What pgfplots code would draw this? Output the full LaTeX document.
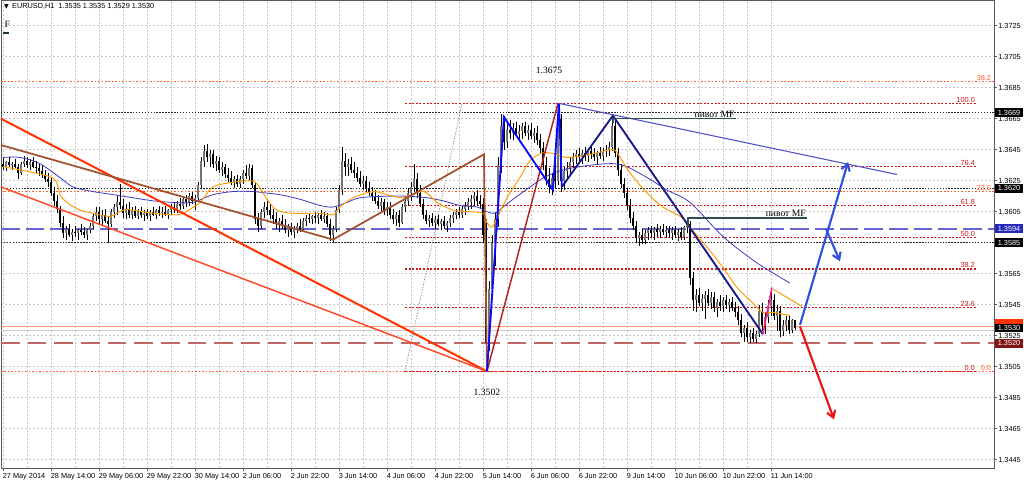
\documentclass[border=0pt]{standalone}
\usepackage{fontspec}
\setmainfont{Liberation Sans}
\newfontfamily\serif{Liberation Serif}
\newfontfamily\dju{DejaVu Sans}
\usepackage{pgfplots}
\pgfplotsset{compat=1.18}
\usepackage{pgfplotstable}
\usetikzlibrary{arrows.meta}

\definecolor{redA}{RGB}{255,51,0}
\definecolor{redB}{RGB}{255,72,40}
\definecolor{brownL}{RGB}{160,82,45}
\definecolor{fibbase}{RGB}{178,34,34}
\definecolor{blueZ}{RGB}{10,10,255}
\definecolor{navyZ}{RGB}{25,25,140}
\definecolor{pinkZ}{RGB}{255,20,147}
\definecolor{trendB}{RGB}{80,80,205}
\definecolor{maOr}{RGB}{255,153,0}
\definecolor{maBl}{RGB}{60,60,200}
\definecolor{pivotG}{RGB}{47,79,79}
\definecolor{arrB}{RGB}{50,80,220}
\definecolor{arrR}{RGB}{235,20,20}
\definecolor{fibR}{RGB}{205,25,25}
\definecolor{fibO}{RGB}{255,99,40}
\definecolor{dashB}{RGB}{100,100,210}
\definecolor{dashR}{RGB}{190,105,105}
\definecolor{priceO}{RGB}{255,160,120}
\definecolor{boxB}{RGB}{40,40,190}
\definecolor{boxD}{RGB}{130,20,20}
\definecolor{boxR}{RGB}{255,50,0}

\newcommand\sz{\fontsize{5.5}{6}\selectfont}
\newcommand\sr{\serif\fontsize{7.2}{8}\selectfont}

% hourly EURUSD bars, i = bar number (3 px per bar in the screenshot)
\pgfplotstableread{
i o h l c
0 1.3636 1.3640 1.3632 1.3634
1 1.3634 1.3638 1.3631 1.3637
2 1.3637 1.3640 1.3634 1.3635
3 1.3635 1.3637 1.3632 1.3636
4 1.3636 1.3639 1.3633 1.3634
5 1.3634 1.3636 1.3626 1.3630
6 1.3630 1.3637 1.3629 1.3636
7 1.3636 1.3641 1.3634 1.3638
8 1.3638 1.3640 1.3633 1.3635
9 1.3635 1.3639 1.3632 1.3637
10 1.3637 1.3640 1.3633 1.3634
11 1.3634 1.3638 1.3630 1.3633
12 1.3633 1.3636 1.3628 1.3631
13 1.3631 1.3635 1.3627 1.3629
14 1.3629 1.3632 1.3624 1.3626
15 1.3626 1.3630 1.3621 1.3624
16 1.3624 1.3627 1.3615 1.3617
17 1.3617 1.3621 1.3609 1.3612
18 1.3612 1.3616 1.3604 1.3607
19 1.3607 1.3609 1.3595 1.3598
20 1.3598 1.3602 1.3588 1.3591
21 1.3591 1.3596 1.3587 1.3594
22 1.3594 1.3597 1.3589 1.3590
23 1.3590 1.3594 1.3586 1.3592
24 1.3592 1.3596 1.3589 1.3591
25 1.3591 1.3594 1.3587 1.3593
26 1.3593 1.3597 1.3590 1.3592
27 1.3592 1.3595 1.3588 1.3590
28 1.3590 1.3594 1.3587 1.3593
29 1.3593 1.3598 1.3591 1.3596
30 1.3596 1.3604 1.3594 1.3602
31 1.3602 1.3608 1.3599 1.3605
32 1.3605 1.3608 1.3597 1.3600
33 1.3600 1.3606 1.3596 1.3603
34 1.3603 1.3607 1.3598 1.3599
35 1.3599 1.3602 1.3585 1.3597
36 1.3597 1.3607 1.3595 1.3605
37 1.3605 1.3610 1.3601 1.3608
38 1.3608 1.3615 1.3603 1.3611
39 1.3611 1.3623 1.3607 1.3609
40 1.3609 1.3613 1.3601 1.3604
41 1.3604 1.3610 1.3600 1.3607
42 1.3607 1.3611 1.3601 1.3603
43 1.3603 1.3608 1.3600 1.3606
44 1.3606 1.3609 1.3601 1.3602
45 1.3602 1.3607 1.3600 1.3605
46 1.3605 1.3608 1.3601 1.3603
47 1.3603 1.3606 1.3599 1.3604
48 1.3604 1.3607 1.3600 1.3602
49 1.3602 1.3606 1.3599 1.3605
50 1.3605 1.3608 1.3602 1.3603
51 1.3603 1.3607 1.3600 1.3606
52 1.3606 1.3609 1.3602 1.3604
53 1.3604 1.3608 1.3601 1.3605
54 1.3605 1.3609 1.3602 1.3603
55 1.3603 1.3607 1.3600 1.3606
56 1.3606 1.3610 1.3603 1.3608
57 1.3608 1.3611 1.3604 1.3606
58 1.3606 1.3612 1.3604 1.3610
59 1.3610 1.3614 1.3606 1.3609
60 1.3609 1.3615 1.3607 1.3613
61 1.3613 1.3616 1.3608 1.3611
62 1.3611 1.3617 1.3609 1.3615
63 1.3615 1.3618 1.3610 1.3612
64 1.3612 1.3616 1.3606 1.3614
65 1.3614 1.3624 1.3612 1.3622
66 1.3622 1.3640 1.3620 1.3638
67 1.3638 1.3648 1.3634 1.3644
68 1.3644 1.3649 1.3637 1.3640
69 1.3640 1.3645 1.3634 1.3642
70 1.3642 1.3645 1.3633 1.3636
71 1.3636 1.3641 1.3631 1.3638
72 1.3638 1.3640 1.3630 1.3632
73 1.3632 1.3637 1.3628 1.3634
74 1.3634 1.3636 1.3627 1.3629
75 1.3629 1.3633 1.3624 1.3627
76 1.3627 1.3631 1.3622 1.3624
77 1.3624 1.3628 1.3620 1.3626
78 1.3626 1.3629 1.3621 1.3623
79 1.3623 1.3628 1.3620 1.3626
80 1.3626 1.3632 1.3623 1.3630
81 1.3630 1.3635 1.3626 1.3628
82 1.3628 1.3636 1.3625 1.3633
83 1.3633 1.3635 1.3620 1.3622
84 1.3622 1.3624 1.3597 1.3600
85 1.3600 1.3604 1.3592 1.3596
86 1.3596 1.3607 1.3594 1.3605
87 1.3605 1.3611 1.3601 1.3608
88 1.3608 1.3612 1.3603 1.3606
89 1.3606 1.3610 1.3600 1.3603
90 1.3603 1.3607 1.3597 1.3600
91 1.3600 1.3605 1.3594 1.3597
92 1.3597 1.3601 1.3592 1.3599
93 1.3599 1.3603 1.3594 1.3596
94 1.3596 1.3600 1.3591 1.3593
95 1.3593 1.3597 1.3589 1.3595
96 1.3595 1.3598 1.3590 1.3592
97 1.3592 1.3596 1.3588 1.3594
98 1.3594 1.3598 1.3591 1.3596
99 1.3596 1.3600 1.3592 1.3594
100 1.3594 1.3601 1.3593 1.3599
101 1.3599 1.3603 1.3596 1.3601
102 1.3601 1.3604 1.3598 1.3600
103 1.3600 1.3603 1.3597 1.3602
104 1.3602 1.3605 1.3598 1.3601
105 1.3601 1.3604 1.3597 1.3603
106 1.3603 1.3606 1.3599 1.3600
107 1.3600 1.3605 1.3598 1.3602
108 1.3602 1.3604 1.3595 1.3597
109 1.3597 1.3600 1.3586 1.3590
110 1.3590 1.3596 1.3585 1.3594
111 1.3594 1.3608 1.3592 1.3606
112 1.3606 1.3622 1.3604 1.3619
113 1.3619 1.3647 1.3616 1.3638
114 1.3638 1.3643 1.3628 1.3634
115 1.3634 1.3639 1.3628 1.3636
116 1.3636 1.3640 1.3630 1.3632
117 1.3632 1.3637 1.3627 1.3630
118 1.3630 1.3634 1.3624 1.3627
119 1.3627 1.3631 1.3621 1.3623
120 1.3623 1.3628 1.3619 1.3625
121 1.3625 1.3628 1.3618 1.3620
122 1.3620 1.3624 1.3615 1.3617
123 1.3617 1.3621 1.3612 1.3615
124 1.3615 1.3619 1.3610 1.3612
125 1.3612 1.3616 1.3607 1.3609
126 1.3609 1.3614 1.3605 1.3611
127 1.3611 1.3613 1.3603 1.3606
128 1.3606 1.3611 1.3602 1.3608
129 1.3608 1.3611 1.3600 1.3603
130 1.3603 1.3607 1.3597 1.3600
131 1.3600 1.3605 1.3596 1.3603
132 1.3603 1.3606 1.3595 1.3598
133 1.3598 1.3610 1.3597 1.3608
134 1.3608 1.3615 1.3605 1.3612
135 1.3612 1.3620 1.3609 1.3617
136 1.3617 1.3624 1.3612 1.3621
137 1.3621 1.3636 1.3618 1.3626
138 1.3626 1.3630 1.3614 1.3617
139 1.3617 1.3622 1.3608 1.3610
140 1.3610 1.3613 1.3600 1.3603
141 1.3603 1.3606 1.3597 1.3599
142 1.3599 1.3603 1.3595 1.3601
143 1.3601 1.3604 1.3596 1.3598
144 1.3598 1.3602 1.3594 1.3600
145 1.3600 1.3603 1.3596 1.3597
146 1.3597 1.3600 1.3593 1.3599
147 1.3599 1.3602 1.3594 1.3596
148 1.3596 1.3599 1.3592 1.3598
149 1.3598 1.3603 1.3595 1.3601
150 1.3601 1.3605 1.3598 1.3603
151 1.3603 1.3607 1.3600 1.3605
152 1.3605 1.3608 1.3601 1.3603
153 1.3603 1.3609 1.3601 1.3607
154 1.3607 1.3611 1.3603 1.3609
155 1.3609 1.3614 1.3606 1.3611
156 1.3611 1.3616 1.3607 1.3613
157 1.3613 1.3618 1.3609 1.3615
158 1.3615 1.3619 1.3609 1.3612
159 1.3612 1.3616 1.3607 1.3610
160 1.3610 1.3614 1.3585 1.3590
161 1.3590 1.3600 1.3502 1.3520
162 1.3520 1.3560 1.3515 1.3555
163 1.3555 1.3590 1.3548 1.3585
164 1.3585 1.3605 1.3570 1.3600
165 1.3600 1.3640 1.3595 1.3635
166 1.3635 1.3668 1.3630 1.3660
167 1.3660 1.3667 1.3645 1.3650
168 1.3650 1.3662 1.3646 1.3658
169 1.3658 1.3664 1.3652 1.3656
170 1.3656 1.3662 1.3651 1.3659
171 1.3659 1.3663 1.3653 1.3655
172 1.3655 1.3661 1.3650 1.3657
173 1.3657 1.3662 1.3652 1.3660
174 1.3660 1.3663 1.3654 1.3656
175 1.3656 1.3661 1.3651 1.3658
176 1.3658 1.3662 1.3652 1.3654
177 1.3654 1.3659 1.3649 1.3656
178 1.3656 1.3660 1.3648 1.3651
179 1.3651 1.3655 1.3643 1.3646
180 1.3646 1.3650 1.3632 1.3635
181 1.3635 1.3640 1.3622 1.3626
182 1.3626 1.3633 1.3617 1.3621
183 1.3621 1.3630 1.3616 1.3627
184 1.3627 1.3640 1.3620 1.3625
185 1.3625 1.3675 1.3622 1.3665
186 1.3665 1.3668 1.3618 1.3625
187 1.3625 1.3634 1.3619 1.3631
188 1.3631 1.3637 1.3627 1.3633
189 1.3633 1.3640 1.3629 1.3637
190 1.3637 1.3643 1.3633 1.3640
191 1.3640 1.3645 1.3636 1.3642
192 1.3642 1.3646 1.3637 1.3640
193 1.3640 1.3645 1.3636 1.3643
194 1.3643 1.3647 1.3638 1.3641
195 1.3641 1.3645 1.3637 1.3644
196 1.3644 1.3648 1.3639 1.3642
197 1.3642 1.3646 1.3638 1.3640
198 1.3640 1.3644 1.3636 1.3643
199 1.3643 1.3647 1.3639 1.3641
200 1.3641 1.3646 1.3638 1.3644
201 1.3644 1.3648 1.3640 1.3645
202 1.3645 1.3650 1.3641 1.3647
203 1.3647 1.3667 1.3644 1.3660
204 1.3660 1.3664 1.3640 1.3643
205 1.3643 1.3646 1.3628 1.3632
206 1.3632 1.3636 1.3620 1.3623
207 1.3623 1.3627 1.3614 1.3617
208 1.3617 1.3620 1.3606 1.3609
209 1.3609 1.3613 1.3598 1.3601
210 1.3601 1.3605 1.3593 1.3596
211 1.3596 1.3599 1.3585 1.3588
212 1.3588 1.3592 1.3583 1.3590
213 1.3590 1.3594 1.3584 1.3587
214 1.3587 1.3593 1.3584 1.3591
215 1.3591 1.3595 1.3587 1.3593
216 1.3593 1.3596 1.3588 1.3591
217 1.3591 1.3595 1.3587 1.3594
218 1.3594 1.3597 1.3589 1.3592
219 1.3592 1.3596 1.3588 1.3594
220 1.3594 1.3597 1.3590 1.3592
221 1.3592 1.3596 1.3588 1.3593
222 1.3593 1.3596 1.3589 1.3591
223 1.3591 1.3595 1.3587 1.3593
224 1.3593 1.3596 1.3588 1.3590
225 1.3590 1.3594 1.3586 1.3592
226 1.3592 1.3595 1.3587 1.3589
227 1.3589 1.3596 1.3587 1.3595
228 1.3595 1.3601 1.3591 1.3597
229 1.3597 1.3599 1.3558 1.3562
230 1.3562 1.3566 1.3541 1.3548
231 1.3548 1.3555 1.3540 1.3551
232 1.3551 1.3556 1.3544 1.3546
233 1.3546 1.3552 1.3541 1.3549
234 1.3549 1.3554 1.3536 1.3551
235 1.3551 1.3555 1.3544 1.3546
236 1.3546 1.3553 1.3542 1.3550
237 1.3550 1.3553 1.3540 1.3543
238 1.3543 1.3549 1.3537 1.3547
239 1.3547 1.3551 1.3541 1.3544
240 1.3544 1.3550 1.3540 1.3548
241 1.3548 1.3551 1.3542 1.3545
242 1.3545 1.3549 1.3540 1.3547
243 1.3547 1.3550 1.3541 1.3543
244 1.3543 1.3547 1.3537 1.3540
245 1.3540 1.3544 1.3532 1.3535
246 1.3535 1.3539 1.3524 1.3527
247 1.3527 1.3532 1.3521 1.3530
248 1.3530 1.3534 1.3521 1.3524
249 1.3524 1.3529 1.3520 1.3527
250 1.3527 1.3530 1.3521 1.3523
251 1.3523 1.3528 1.3520 1.3526
252 1.3526 1.3545 1.3524 1.3541
253 1.3541 1.3546 1.3528 1.3532
254 1.3532 1.3540 1.3526 1.3537
255 1.3537 1.3548 1.3533 1.3544
256 1.3544 1.3555 1.3538 1.3548
257 1.3548 1.3552 1.3535 1.3538
258 1.3538 1.3545 1.3528 1.3541
259 1.3541 1.3544 1.3524 1.3528
260 1.3528 1.3535 1.3525 1.3532
261 1.3532 1.3538 1.3528 1.3535
262 1.3535 1.3538 1.3526 1.3529
263 1.3529 1.3536 1.3527 1.3535
264 1.3535 1.3535 1.3529 1.3530
}\bars

\tikzset{
  dotblk/.style={black!85, line width=0.9pt, dash pattern=on 1.1pt off 1.1pt},
  dotorg/.style={fibO, line width=0.8pt, dash pattern=on 1.2pt off 1.4pt},
  dotfib/.style={fibR, line width=1pt, dash pattern=on 1.5pt off 1.2pt},
  fiblab/.style={fibR, font=\sz, anchor=south east, inner sep=0.6pt},
  orglab/.style={fibO, font=\sz, anchor=south east, inner sep=0.6pt},
  pbox/.style={text=white, font=\sz, anchor=west, inner sep=0pt, minimum width=21pt, minimum height=6.6pt, xshift=0.6pt},
}
\newcommand{\hlev}[2]{\addplot[#1] coordinates {(-0.6667,#2) (330.3333,#2)};}
\newcommand{\fib}[2]{\addplot[dotfib] coordinates {(134,#1) (324.3,#1)};
  \node[fiblab] at (axis cs:324.3,#1) {#2};}

\begin{document}
\begin{tikzpicture}
\fill[white] (-0.75pt,-10.5pt) rectangle (767.25pt,351pt);
\begin{axis}[
    at={(0pt,0pt)}, anchor=south west,
    width=744.75pt, height=351pt, scale only axis,
    xmin=-0.6667, xmax=330.3333,
    ymin=1.343965, ymax=1.374158,
    clip=false,
    axis line style={draw=black!65, line width=0.6pt},
    xtick={0,16,32,48,64,80,96,112,128,144,160,176,192,208,224,240,256},
    xticklabels={27 May 2014,28 May 14:00,29 May 06:00,29 May 22:00,30 May 14:00,
      2 Jun 06:00,2 Jun 22:00,3 Jun 14:00,4 Jun 06:00,4 Jun 22:00,5 Jun 14:00,
      6 Jun 06:00,6 Jun 22:00,9 Jun 14:00,10 Jun 06:00,10 Jun 22:00,11 Jun 14:00},
    minor x tick num=1,
    ytick={1.3445,1.3465,1.3485,1.3505,1.3525,1.3545,1.3565,1.3585,1.3605,1.3625,1.3645,1.3665,1.3685,1.3705,1.3725},
    scaled y ticks=false,
    xtick pos=bottom, ytick pos=right, yticklabel pos=right,
    tick align=outside, major tick length=2.25pt, minor tick length=0pt,
    tick style={black!65, line width=0.5pt},
    xmajorgrids, xminorgrids, ymajorgrids,
    grid style={black!22, line width=0.5pt, dash pattern=on 1.5pt off 1.5pt},
    minor grid style={black!22, line width=0.5pt, dash pattern=on 1.5pt off 1.5pt},
    /pgf/number format/assume math mode=true,
    xticklabel style={font=\sz, anchor=north west, inner sep=0pt, yshift=-1.6pt, xshift=-0.3pt},
    yticklabel style={font=\sz, anchor=west, inner sep=0pt, xshift=0.8pt,
      /pgf/number format/.cd, fixed, fixed zerofill, precision=4},
]

% horizontal levels
\hlev{dotorg}{1.3689}
\hlev{dotorg}{1.3618}
\hlev{dotorg}{1.3502}
\hlev{dotblk}{1.3669}
\hlev{dotblk}{1.3620}
\hlev{dotblk}{1.3585}
\hlev{dashB, line width=1.4pt, dash pattern=on 14pt off 4.5pt}{1.3594}
\hlev{dashR, line width=1.5pt, dash pattern=on 14pt off 6pt}{1.3520}
\hlev{black!20, line width=0.9pt}{1.35285}
\hlev{priceO, line width=1.3pt}{1.3531}

% fibo grid on the 5 Jun swing
\fib{1.3675}{100.0}
\fib{1.3634}{76.4}
\fib{1.3609}{61.8}
\fib{1.35885}{50.0}
\fib{1.3568}{38.2}
\fib{1.3543}{23.6}
\fib{1.3502}{0.0}
\node[orglab] at (axis cs:329.7,1.3689) {38.2};
\node[orglab] at (axis cs:329.7,1.3618) {23.6};
\node[orglab] at (axis cs:329.7,1.3502) {0.0};
\addplot[black!45, line width=0.5pt, dash pattern=on 1pt off 1pt] coordinates {(134,1.3502) (153,1.3675)};

% candles
\addplot[black, line width=0.6pt, quiver={u=0, v=\thisrow{h}-\thisrow{l}}] table[x=i, y=l] {\bars};
\addplot[black!55, line width=1.5pt, restrict expr to domain={\thisrow{c}-\thisrow{o}}{0:1},
  quiver={u=0, v=\thisrow{c}-\thisrow{o}}] table[x=i, y=o] {\bars};
\addplot[black, line width=1.5pt, restrict expr to domain={\thisrow{c}-\thisrow{o}}{-1:0},
  quiver={u=0, v=\thisrow{c}-\thisrow{o}}] table[x=i, y=o] {\bars};

% moving averages
\addplot[maBl, line width=0.6pt, smooth] coordinates {
(0,1.3640) (5.7,1.3640) (12.3,1.3636) (19,1.3627) (23.3,1.3621) (30,1.3618)
(36.7,1.3616) (43.3,1.3614) (50,1.3612) (56.7,1.3611) (63.3,1.3611) (70,1.3616)
(76.7,1.3618) (83.3,1.3618) (88,1.3617) (92.3,1.3616) (99,1.3613) (105.7,1.3609)
(110,1.3608) (114.7,1.3611) (119,1.3614) (128,1.3615) (134.7,1.3615) (141.3,1.3614)
(146.7,1.3612) (152.3,1.3609) (158,1.3608) (161.3,1.3605) (164,1.3604) (166.7,1.3608)
(170,1.3613) (175.7,1.3621) (180.3,1.3627) (186.7,1.3632) (195.7,1.3635) (203.3,1.3636)
(208,1.3634) (214.7,1.3627) (221.3,1.3619) (229,1.3611) (240,1.3589) (251.3,1.3572)
(262.3,1.3559)};
\addplot[maOr, line width=0.7pt, smooth] coordinates {
(0,1.3634) (16.3,1.3627) (19,1.3616) (21.3,1.3611) (25.7,1.3606) (30,1.3604)
(35.7,1.3602) (40,1.3606) (43.3,1.3606) (50,1.3604) (56.7,1.3603) (60,1.3604)
(65.7,1.3611) (70,1.3621) (76.7,1.3624) (82.3,1.3625) (84.7,1.3623) (88,1.3613)
(91.3,1.3606) (96.7,1.3604) (105.7,1.3604) (110,1.3603) (112.3,1.3608) (116.7,1.3614)
(123.3,1.3618) (128,1.3616) (133.3,1.3614) (139,1.3618) (141.3,1.3617) (144.7,1.3611)
(150,1.3606) (155.7,1.3605) (160,1.3604) (161.3,1.3598) (163,1.3595) (164.7,1.3601)
(168,1.3614) (172.3,1.3627) (175.7,1.3638) (180,1.3643) (184.7,1.3642) (188,1.3640)
(195.7,1.3642) (203.3,1.3645) (205.7,1.3640) (209,1.3630) (214.7,1.3617) (220,1.3608)
(225.7,1.3602) (229,1.3595) (234.7,1.3582) (240,1.3569) (244.7,1.3556) (250,1.3546)
(253.3,1.3540) (256.7,1.3540) (262.3,1.3538)};
\addplot[maOr, line width=0.7pt] coordinates {(256.7,1.3555) (266.3,1.3544)};

% drawn objects
\addplot[redA, line width=1.5pt] coordinates {(-0.6667,1.3665) (161.33,1.3502)};
\addplot[redB, line width=1.1pt] coordinates {(-0.6667,1.3621) (161.33,1.3502)};
\addplot[brownL, line width=1.3pt] coordinates {(-0.6667,1.3648) (110,1.3587) (160.3,1.3642) (161.33,1.3502)};
\addplot[fibbase, line width=1.1pt] coordinates {(161.33,1.3502) (185,1.3675)};
\addplot[blueZ, line width=1.4pt] coordinates {(161.33,1.3502) (167,1.3666) (183.3,1.3619) (185.3,1.3675) (186.3,1.3621)};
\addplot[navyZ, line width=1.4pt] coordinates {(186.3,1.3621) (203.3,1.3667) (253.3,1.3526)};
\addplot[pinkZ, line width=1.1pt] coordinates {(253.3,1.3526) (256.3,1.3556)};
\addplot[trendB, line width=0.8pt] coordinates {(185,1.3675) (298,1.3629)};
\addplot[pivotG, line width=0.9pt] coordinates {(203.3,1.3662) (203.3,1.3665) (244.3,1.3665)};
\addplot[pivotG, line width=0.9pt] coordinates {(228.3,1.3596) (228.3,1.3601) (268,1.3601)};

% forecast arrows
\addplot[arrB, line width=1.6pt, -{Straight Barb[length=5pt,width=6.5pt]}] coordinates {(265.67,1.3532) (281.67,1.3637)};
\addplot[arrB, line width=1.6pt, -{Straight Barb[length=5pt,width=6.5pt]}] coordinates {(274.3,1.3594) (279,1.3573)};
\addplot[arrR, line width=1.6pt, -{Straight Barb[length=5pt,width=6.5pt]}] coordinates {(265.67,1.3531) (277,1.3471)};

% texts
\node[anchor=west, font=\sz, inner sep=0pt] at (axis cs:0.3,1.37377)
  {{\dju\fontsize{4.5}{5}\selectfont ▼}\hspace{2.5pt}EURUSD,H1\hspace{3pt}1.3535 1.3535 1.3529 1.3530};
\node[font=\sr, inner sep=0pt] at (axis cs:1.4,1.37258) {F};
\addplot[pivotG!70!black, line width=1.2pt] coordinates {(-0.1,1.37203) (2,1.37203)};
\node[font=\sr, inner sep=0pt] at (axis cs:182,1.36964) {1.3675};
\node[font=\sr, inner sep=0pt] at (axis cs:161.3,1.34887) {1.3502};
\node[font=\sr, anchor=south east, inner sep=0.8pt] at (axis cs:244.3,1.3665) {пивот MF};
\node[font=\sr, anchor=south east, inner sep=0.8pt] at (axis cs:268,1.3601) {пивот MF};

% price boxes on the scale
\node[pbox, fill=black] at (axis cs:330.3333,1.3669) {1.3669};
\node[pbox, fill=black] at (axis cs:330.3333,1.3620) {1.3620};
\node[pbox, fill=boxB] at (axis cs:330.3333,1.3594) {1.3594};
\node[pbox, fill=black] at (axis cs:330.3333,1.3585) {1.3585};
\node[pbox, fill=boxR] at (axis cs:330.3333,1.3533) {};
\node[pbox, fill=black] at (axis cs:330.3333,1.3530) {1.3530};
\node[pbox, fill=boxD] at (axis cs:330.3333,1.3520) {1.3520};
\end{axis}
\pgfresetboundingbox
\path[use as bounding box] (-0.75pt,-10.5pt) rectangle (767.25pt,351pt);
\end{tikzpicture}
\end{document}
